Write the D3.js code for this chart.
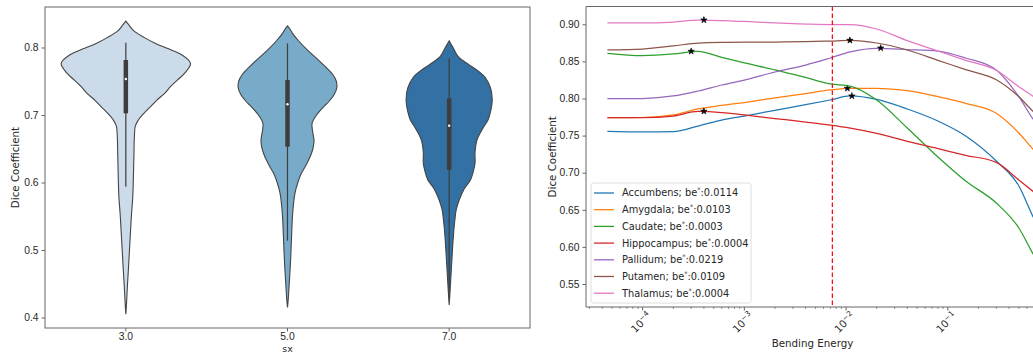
<!DOCTYPE html>
<html>
<head>
<meta charset="utf-8">
<script src="https://cdn.jsdelivr.net/npm/d3@7"></script>
<style>
  body { margin: 0; background: #fff; }
  svg { display: block; font-family: "DejaVu Sans", sans-serif; }
</style>
</head>
<body>
<svg id="chart" width="1033" height="354"></svg>
<script>
// ---- Left panel data: violin per sx ----
const sxCategories = ["3.0", "5.0", "7.0"];
const violinColors = ["#cbdbea", "#78aac9", "#3370a3"];

// [dice, relative density]
const densitySx3 = [
  [0.839, 0], [0.833, 0.05], [0.825, 0.12], [0.815, 0.28], [0.806, 0.46],
  [0.798, 0.66], [0.79, 0.85], [0.7765, 1.0], [0.762, 0.91], [0.752, 0.8],
  [0.742, 0.69], [0.732, 0.6], [0.722, 0.48], [0.712, 0.38], [0.7025, 0.28],
  [0.692, 0.19], [0.683, 0.145], [0.673, 0.135], [0.663, 0.13], [0.64, 0.125],
  [0.62, 0.12], [0.6, 0.115], [0.58, 0.108], [0.549, 0.085], [0.515, 0.065],
  [0.475, 0.042], [0.4456, 0.024], [0.42, 0.01], [0.405, 0]
];
const densitySx5 = [
  [0.832, 0], [0.827, 0.04], [0.821, 0.077], [0.81, 0.17], [0.796, 0.31],
  [0.784, 0.45], [0.7716, 0.585], [0.76, 0.7], [0.75, 0.755], [0.74, 0.762],
  [0.73, 0.72], [0.72, 0.64], [0.7123, 0.56], [0.7, 0.45], [0.6877, 0.38],
  [0.675, 0.39], [0.663, 0.41], [0.653, 0.4], [0.643, 0.37], [0.628, 0.3],
  [0.6136, 0.215], [0.6, 0.16], [0.584, 0.115], [0.5544, 0.08], [0.5247, 0.065],
  [0.485, 0.048], [0.4456, 0.024], [0.425, 0.01], [0.415, 0]
];
const densitySx7 = [
  [0.81, 0], [0.8, 0.06], [0.7864, 0.14], [0.775, 0.3], [0.765, 0.45],
  [0.7567, 0.55], [0.74, 0.64], [0.7222, 0.666], [0.705, 0.64], [0.6926, 0.6],
  [0.68, 0.52], [0.663, 0.43], [0.645, 0.4], [0.6284, 0.4], [0.615, 0.37],
  [0.6037, 0.33], [0.59, 0.23], [0.574, 0.155], [0.56, 0.11], [0.5444, 0.088],
  [0.52, 0.065], [0.495, 0.048], [0.4556, 0.024], [0.43, 0.008], [0.4185, 0]
];
// [whiskerLow, q1, median, q3, whiskerHigh]
const boxSx3 = [0.5938, 0.7025, 0.7533, 0.7815, 0.807];
const boxSx5 = [0.5138, 0.6531, 0.7159, 0.7519, 0.806];
const boxSx7 = [0.43, 0.6185, 0.6842, 0.7247, 0.784];
const leftYTicks = [0.4, 0.5, 0.6, 0.7, 0.8];

// ---- Right panel data: Dice vs bending energy ----
const bendingEnergy = [4.5e-5, 1e-4, 2e-4, 3.5e-4, 6e-4, 1e-3, 2e-3, 4e-3, 7e-3,
  0.011, 0.02, 0.04, 0.08, 0.15, 0.3, 0.5, 0.7, 1.0];
const structures = ["Accumbens", "Amygdala", "Caudate", "Hippocampus", "Pallidum", "Putamen", "Thalamus"];
const accumbens = [0.7558, 0.7549, 0.7555, 0.7629, 0.771, 0.7764, 0.7841, 0.7916, 0.798,
  0.8034, 0.7987, 0.7859, 0.7697, 0.7495, 0.7158, 0.6821, 0.6389, 0.6025];
const amygdala = [0.7741, 0.7744, 0.7778, 0.7859, 0.7906, 0.7946, 0.8007, 0.8067, 0.8115,
  0.8137, 0.8135, 0.8105, 0.8024, 0.7935, 0.7801, 0.7535, 0.7306, 0.7104];
const caudate = [0.8609, 0.8577, 0.86, 0.8636, 0.8554, 0.8481, 0.8387, 0.8284, 0.8198,
  0.8168, 0.798, 0.7602, 0.7212, 0.6888, 0.6592, 0.6255, 0.589, 0.5555];
const hippocampus = [0.7741, 0.7741, 0.7764, 0.7825, 0.7811, 0.7778, 0.773, 0.7683, 0.7642,
  0.7602, 0.7531, 0.7423, 0.7325, 0.7234, 0.7139, 0.6902, 0.674, 0.6565];
const pallidum = [0.7997, 0.8, 0.8034, 0.8101, 0.8182, 0.8249, 0.8357, 0.8451, 0.8546,
  0.8627, 0.8674, 0.866, 0.864, 0.8546, 0.8384, 0.8024, 0.771, 0.7508];
const putamen = [0.8654, 0.8667, 0.8708, 0.8748, 0.8757, 0.8759, 0.8761, 0.8766, 0.8775,
  0.8782, 0.8748, 0.8654, 0.8515, 0.8388, 0.8253, 0.8024, 0.7818, 0.7643];
const thalamus = [0.9018, 0.9018, 0.9031, 0.9058, 0.9051, 0.9038, 0.9018, 0.9004, 0.8997,
  0.8997, 0.8937, 0.8779, 0.864, 0.8515, 0.838, 0.8159, 0.8024, 0.7872];
const bestBE = [0.0114, 0.0103, 0.0003, 0.0004, 0.0219, 0.0109, 0.0004];
const bestDice = [0.8034, 0.8137, 0.8636, 0.7828, 0.868, 0.8784, 0.9058];
const lineColors = ["#1f77b4", "#ff7f0e", "#2ca02c", "#d62728", "#9467bd", "#8c564b", "#e377c2"];
const thresholdBE = 0.00733;
const rightYTicks = [0.55, 0.6, 0.65, 0.7, 0.75, 0.8, 0.85, 0.9];
const logMajorTicks = [1e-4, 1e-3, 1e-2, 1e-1];

const svg = d3.select("#chart");
const textColor = "#262626";
const spineColor = "#666";
const tickFont = "10.3px";
const labelFont = "10.3px";

// ================= LEFT: violin plot =================
const L = { left: 45, right: 530, top: 7, bottom: 328 };
const violins = [
  { density: densitySx3, box: boxSx3 },
  { density: densitySx5, box: boxSx5 },
  { density: densitySx7, box: boxSx7 }
];

const xL = d3.scaleBand().domain(sxCategories).range([L.left, L.right]);
const yL = d3.scaleLinear().domain([0.3844, 0.86]).range([L.bottom, L.top]);
const wScale = d3.scaleLinear().domain([0, 1]).range([0, xL.bandwidth() * 0.4]);

const left = svg.append("g");

violins.forEach((v, i) => {
  const cx = xL(sxCategories[i]) + xL.bandwidth() / 2;
  const area = d3.area()
    .y((d) => yL(d[0]))
    .x0((d) => cx - wScale(d[1]))
    .x1((d) => cx + wScale(d[1]))
    .curve(d3.curveCatmullRom);

  left.append("path")
    .attr("d", area(v.density))
    .attr("fill", violinColors[i])
    .attr("stroke", "#444")
    .attr("stroke-width", 1.1);

  // inner box
  left.append("line")
    .attr("x1", cx).attr("x2", cx)
    .attr("y1", yL(v.box[0])).attr("y2", yL(v.box[4]))
    .attr("stroke", "#3d3d3d")
    .attr("stroke-width", 1.2);
  left.append("line")
    .attr("x1", cx).attr("x2", cx)
    .attr("y1", yL(v.box[1])).attr("y2", yL(v.box[3]))
    .attr("stroke", "#3d3d3d")
    .attr("stroke-width", 4.5);
  left.append("circle")
    .attr("cx", cx).attr("cy", yL(v.box[2]))
    .attr("r", 1.2)
    .attr("fill", "#fff");
});

// left axes
const leftY = left.append("g")
  .attr("transform", `translate(${L.left},0)`)
  .call(d3.axisLeft(yL).tickValues(leftYTicks).tickFormat(d3.format(".1f")).tickSize(3.5).tickPadding(3));
const leftX = left.append("g")
  .attr("transform", `translate(0,${L.bottom})`)
  .call(d3.axisBottom(xL).tickSize(3.5).tickPadding(1.5));
[leftY, leftX].forEach((ax) => {
  ax.select(".domain").remove();
  ax.selectAll("line").attr("stroke", spineColor);
  ax.selectAll("text").attr("fill", textColor).style("font-size", tickFont);
});

left.append("rect")
  .attr("x", L.left).attr("y", L.top)
  .attr("width", L.right - L.left).attr("height", L.bottom - L.top)
  .attr("fill", "none")
  .attr("stroke", spineColor)
  .attr("stroke-width", 1);

left.append("text")
  .attr("transform", `translate(15,${(L.top + L.bottom) / 2}) rotate(-90)`)
  .attr("text-anchor", "middle")
  .attr("dy", "0.35em")
  .attr("fill", textColor)
  .style("font-size", labelFont)
  .text("Dice Coefficient");

left.append("text")
  .attr("x", (L.left + L.right) / 2)
  .attr("y", 351.5)
  .attr("text-anchor", "middle")
  .attr("fill", textColor)
  .style("font-size", "9.5px")
  .text("sx");

// ================= RIGHT: Dice vs bending energy =================
const R = { left: 586, right: 1039, top: 6.5, bottom: 307 };
const series = [accumbens, amygdala, caudate, hippocampus, pallidum, putamen, thalamus];

const xR = d3.scaleLog()
  .domain([Math.pow(10, -4.557), Math.pow(10, -0.103)])
  .range([R.left, R.right]);
const yR = d3.scaleLinear().domain([0.519, 0.924]).range([R.bottom, R.top]);

const right = svg.append("g");

const line = d3.line()
  .x((d) => xR(d[0]))
  .y((d) => yR(d[1]))
  .curve(d3.curveMonotoneX);

const star = d3.symbol().type(d3.symbolStar).size(13);

series.forEach((vals, i) => {
  right.append("path")
    .attr("d", line(bendingEnergy.map((b, j) => [b, vals[j]])))
    .attr("fill", "none")
    .attr("stroke", lineColors[i])
    .attr("stroke-width", 1.25);
  right.append("path")
    .attr("d", star())
    .attr("transform", `translate(${xR(bestBE[i])},${yR(bestDice[i])})`)
    .attr("fill", "#000")
    .attr("stroke", "#000")
    .attr("stroke-width", 0.6);
});

right.append("line")
  .attr("x1", xR(thresholdBE)).attr("x2", xR(thresholdBE))
  .attr("y1", R.top).attr("y2", R.bottom)
  .attr("stroke", "#ff0000")
  .attr("stroke-width", 1.2)
  .attr("stroke-dasharray", "4.5,2.5");

// y axis
const rightY = right.append("g")
  .attr("transform", `translate(${R.left},0)`)
  .call(d3.axisLeft(yR).tickValues(rightYTicks).tickFormat(d3.format(".2f")).tickSize(3.5).tickPadding(3));
rightY.select(".domain").remove();
rightY.selectAll("line").attr("stroke", spineColor);
rightY.selectAll("text").attr("fill", textColor).style("font-size", tickFont);

// x axis: major + minor log ticks
const [d0, d1] = xR.domain();
const minorTicks = [];
for (let e = -5; e <= 0; e++) {
  for (let m = 2; m <= 9; m++) {
    const t = m * Math.pow(10, e);
    if (t >= d0 && t <= d1) minorTicks.push(t);
  }
}
right.selectAll(".minor")
  .data(minorTicks)
  .enter()
  .append("line")
  .attr("class", "minor")
  .attr("x1", (d) => xR(d)).attr("x2", (d) => xR(d))
  .attr("y1", R.bottom).attr("y2", R.bottom + 2)
  .attr("stroke", spineColor)
  .attr("stroke-width", 0.7);
right.selectAll(".major")
  .data(logMajorTicks)
  .enter()
  .append("line")
  .attr("class", "major")
  .attr("x1", (d) => xR(d)).attr("x2", (d) => xR(d))
  .attr("y1", R.bottom).attr("y2", R.bottom + 3.5)
  .attr("stroke", spineColor);

const tickLabels = right.selectAll(".xlab")
  .data(logMajorTicks)
  .enter()
  .append("text")
  .attr("class", "xlab")
  .attr("transform", (d) => `translate(${xR(d) - 1.5},322.5) rotate(-45)`)
  .attr("text-anchor", "middle")
  .attr("dy", "0.35em")
  .attr("fill", textColor)
  .style("font-size", tickFont);
tickLabels.append("tspan").text("10");
tickLabels.append("tspan")
  .attr("baseline-shift", "super")
  .style("font-size", "7.3px")
  .text((d) => "\u2212" + Math.round(-Math.log10(d)));

// spines (left, top, bottom; right spine falls outside the picture)
right.append("path")
  .attr("d", `M${R.right},${R.top}H${R.left}V${R.bottom}H${R.right}`)
  .attr("fill", "none")
  .attr("stroke", spineColor)
  .attr("stroke-width", 1);

right.append("text")
  .attr("transform", `translate(552,${(R.top + R.bottom) / 2}) rotate(-90)`)
  .attr("text-anchor", "middle")
  .attr("dy", "0.35em")
  .attr("fill", textColor)
  .style("font-size", labelFont)
  .text("Dice Coefficient");

right.append("text")
  .attr("x", (R.left + R.right) / 2)
  .attr("y", 343)
  .attr("text-anchor", "middle")
  .attr("dy", "0.35em")
  .attr("fill", textColor)
  .style("font-size", labelFont)
  .text("Bending Energy");

// legend
const legend = right.append("g").attr("transform", "translate(591,183)");
legend.append("rect")
  .attr("width", 160).attr("height", 120)
  .attr("rx", 2.5)
  .attr("fill", "#fff")
  .attr("fill-opacity", 0.8)
  .attr("stroke", "#d5d5d5")
  .attr("stroke-width", 0.8);

const entries = legend.selectAll(".entry")
  .data(structures)
  .enter()
  .append("g")
  .attr("class", "entry")
  .attr("transform", (d, i) => `translate(0,${10 + i * 16.7})`);
entries.append("line")
  .attr("x1", 3).attr("x2", 23)
  .attr("stroke", (d, i) => lineColors[i])
  .attr("stroke-width", 1.3);
const entryText = entries.append("text")
  .attr("x", 31)
  .attr("dy", "0.35em")
  .attr("fill", textColor)
  .style("font-size", "9.8px");
entryText.append("tspan").text((d) => `${d}; be`);
entryText.append("tspan")
  .attr("baseline-shift", "super")
  .style("font-size", "6.5px")
  .text("*");
entryText.append("tspan").text((d, i) => `:${bestBE[i].toFixed(4)}`);
</script>
</body>
</html>
